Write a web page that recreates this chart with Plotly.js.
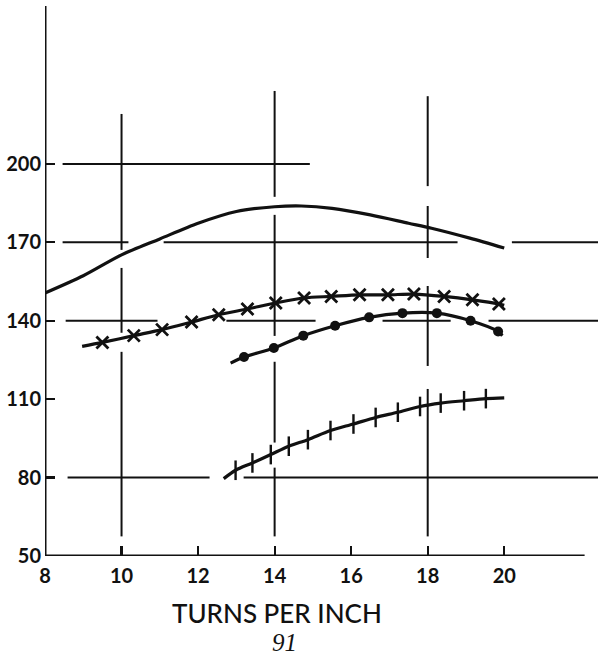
<!DOCTYPE html>
<html>
<head>
<meta charset="utf-8">
<script src="https://cdn.plot.ly/plotly-3.0.1.min.js"></script>
<style>html,body{margin:0;padding:0;background:#fff;}#chart{width:598px;height:665px;}</style>
</head>
<body>
<div id="chart"></div>
<script>
// ---- data ----
const xTickVals = [8, 10, 12, 14, 16, 18, 20];
const yTickVals = [50, 80, 110, 140, 170, 200];
const xAxisTitle = 'TURNS PER INCH';
const pageLabel = '91';

// plain curve (no markers)
const topX = [8, 9, 10, 11, 12, 13, 14, 14.7, 15.5, 16.5, 17.5, 18.1, 19.1, 20];
const topY = [150.6, 157.2, 165.2, 171.3, 177.3, 181.8, 183.6, 183.9, 183.0, 180.5, 177.3, 175.4, 171.6, 167.8];

// curve with x markers
const crossX = [9.50, 10.32, 11.06, 11.83, 12.54, 13.29, 14.03, 14.77, 15.48, 16.22, 16.96, 17.64, 18.43, 19.17, 19.86];
const crossY = [131.7, 134.3, 136.6, 139.5, 142.3, 144.5, 146.8, 148.7, 149.3, 149.9, 149.9, 150.2, 149.3, 148.0, 146.4];
const crossStart = [8.97, 130.2];
const crossEnd = [20.0, 145.9];

// curve with dot markers
const dotX = [13.20, 13.98, 14.75, 15.58, 16.47, 17.34, 18.24, 19.12, 19.84];
const dotY = [126.1, 129.6, 134.3, 138.1, 141.3, 142.9, 142.9, 140.0, 135.9];
const dotStart = [12.85, 123.8];
const dotEnd = [19.95, 134.3];

// curve with bar markers
const barX = [12.98, 13.42, 13.90, 14.37, 14.87, 15.46, 16.06, 16.64, 17.22, 17.80, 18.34, 18.95, 19.52];
const barY = [82.8, 85.6, 88.8, 92.0, 94.5, 98.0, 100.5, 103.0, 105.0, 107.2, 108.5, 109.4, 110.2];
const barStart = [12.67, 79.6];
const barEnd = [20.0, 110.5];

// broken guide lines
const hGridLevels = [200, 170, 140, 80];
const hGridSegs = [
  [[8.46, 14.92]],
  [[8.46, 10.18], [11.10, 18.78], [20.20, 22.45]],
  [[8.54, 10.94], [12.74, 15.07], [16.82, 18.60], [19.59, 22.45]],
  [[8.59, 12.30], [13.19, 22.45]]
];
const vGridLevels = [10, 14, 18];
const vGridSegs = [
  [[219.1, 167.1], [160.2, 135.4], [128.1, 57.5]],
  [[227.9, 187.4], [180.5, 134.2], [124.3, 93.4], [83.8, 57.5]],
  [[225.9, 191.5], [183.9, 164.0], [153.3, 122.7], [113.9, 57.5]]
];
const xAxisEnd = 22.1;
const yAxisTop = 260.4;

// ---- build traces ----
const ink = '#111';
const traces = [];

function gridTrace(levels, segs, horizontal) {
  const xs = [], ys = [];
  levels.forEach((lv, i) => {
    segs[i].forEach(s => {
      if (horizontal) { xs.push(s[0], s[1], null); ys.push(lv, lv, null); }
      else { xs.push(lv, lv, null); ys.push(s[0], s[1], null); }
    });
  });
  return {x: xs, y: ys, mode: 'lines', line: {color: ink, width: 2}, hoverinfo: 'skip', showlegend: false, connectgaps: false};
}
traces.push(gridTrace(hGridLevels, hGridSegs, true));
traces.push(gridTrace(vGridLevels, vGridSegs, false));

// axes lines
traces.push({x: [8, 8, null, 8, xAxisEnd], y: [yAxisTop, 50, null, 50, 50], mode: 'lines',
  line: {color: ink, width: 3}, showlegend: false, hoverinfo: 'skip'});

const curveLine = {color: ink, width: 3.2, shape: 'spline', smoothing: 0.8};
traces.push({x: topX, y: topY, mode: 'lines', line: curveLine, showlegend: false});

function series(mx, my, st, en, marker) {
  traces.push({x: [st[0], ...mx, en[0]], y: [st[1], ...my, en[1]], mode: 'lines', line: curveLine, showlegend: false});
  traces.push({x: mx, y: my, mode: 'markers', marker: marker, showlegend: false});
}
series(crossX, crossY, crossStart, crossEnd, {symbol: 'x-thin-open', size: 12, color: ink, line: {color: ink, width: 2.8}});
series(dotX, dotY, dotStart, dotEnd, {symbol: 'circle', size: 10, color: ink});
series(barX, barY, barStart, barEnd, {symbol: 'line-ns-open', size: 14, color: ink, line: {color: ink, width: 2.4}});

const tickFont = {family: 'Lato, "Open Sans", sans-serif', size: 20, color: ink, weight: 700};
const layout = {
  width: 598, height: 665,
  margin: {l: 45, r: 0, t: 6, b: 108.5},
  paper_bgcolor: '#fff', plot_bgcolor: '#fff',
  showlegend: false,
  xaxis: {range: [8, 22.45], tickvals: xTickVals, ticktext: xTickVals.map(String),
    ticks: 'inside', ticklen: 10, tickwidth: 2.2, tickcolor: ink,
    showgrid: false, zeroline: false, showline: false, tickfont: tickFont, ticklabelstandoff: 6},
  yaxis: {range: [50, yAxisTop], tickvals: yTickVals, ticktext: yTickVals.map(String),
    ticks: 'inside', ticklen: 10, tickwidth: 2.2, tickcolor: ink,
    showgrid: false, zeroline: false, showline: false, tickfont: tickFont, ticklabelstandoff: 3},
  annotations: [
    {text: xAxisTitle, x: 14.05, xref: 'x', y: -0.104, yref: 'paper', yanchor: 'middle', xanchor: 'center',
     showarrow: false, font: {family: 'Lato, "Open Sans", sans-serif', size: 26, color: ink, weight: 500}},
    {text: '<i>' + pageLabel + '</i>', x: 14.25, xref: 'x', y: -0.157, yref: 'paper', yanchor: 'middle', xanchor: 'center',
     showarrow: false, font: {family: '"Liberation Serif", serif', size: 25, color: ink}}
  ]
};
Plotly.newPlot('chart', traces, layout, {staticPlot: true, displayModeBar: false});
</script>
</body>
</html>
